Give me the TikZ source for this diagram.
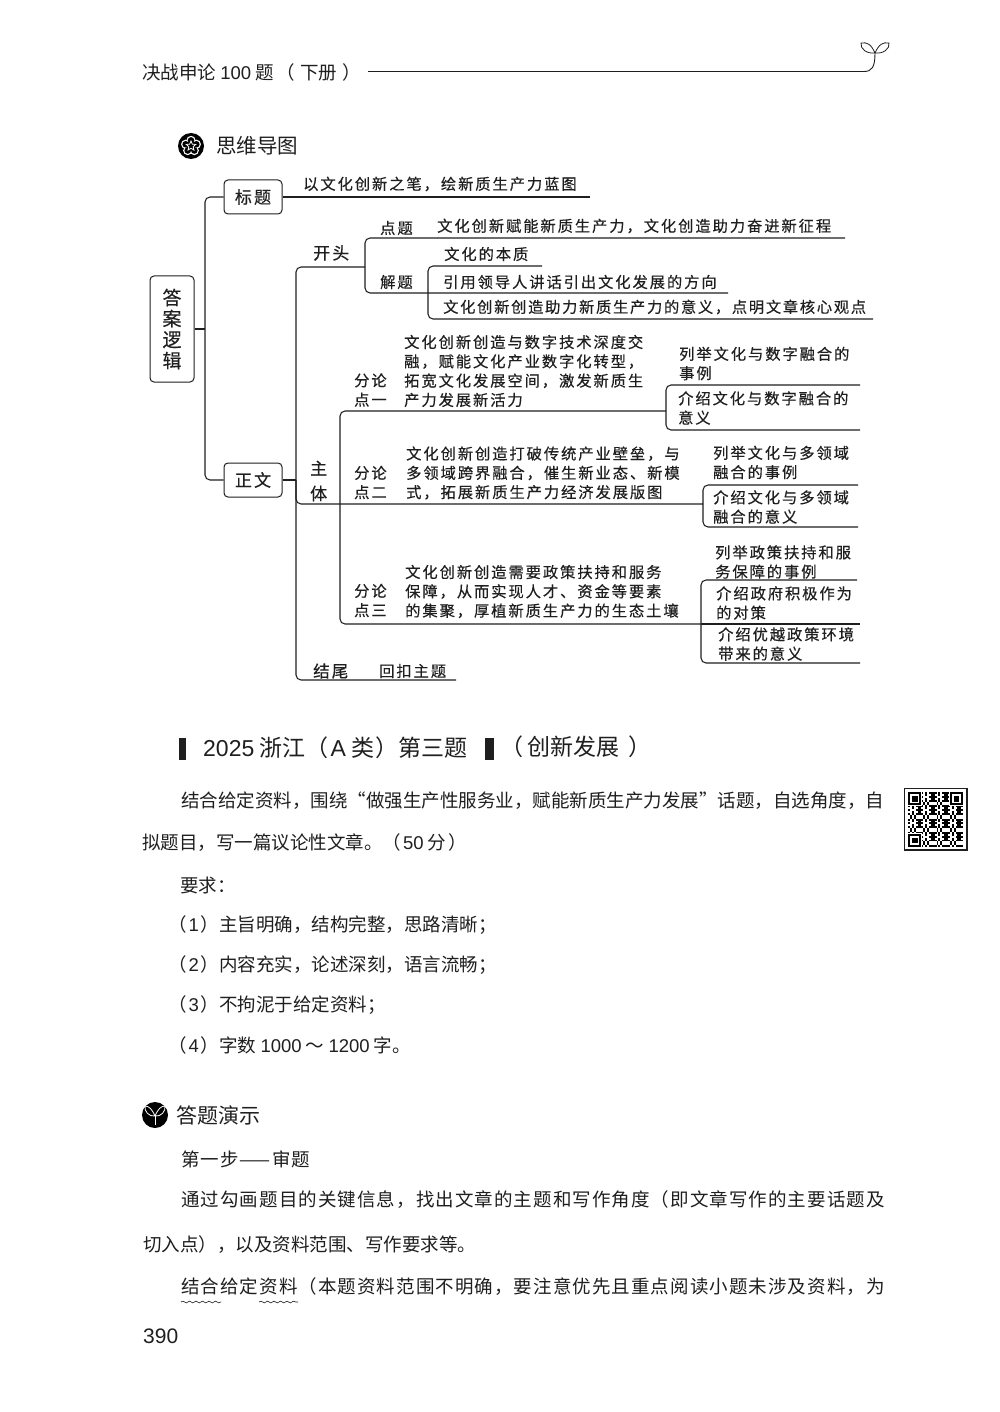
\documentclass[tikz,border=0pt]{standalone}
\usepackage{fontspec}
\setmainfont{Noto Sans CJK SC}
\newfontfamily\arialfont{Liberation Sans}
\newfontfamily\handfont[LetterSpace=12.5,FakeBold=0.35]{Noto Sans CJK SC}
\newfontfamily\handtight[LetterSpace=11,FakeBold=0.35]{Noto Sans CJK SC}
\newfontfamily\widebfont[LetterSpace=5.8]{Noto Sans CJK SC}
\usetikzlibrary{positioning, shapes.geometric, decorations.pathmorphing}
\newcommand{\mapfont}{\fontsize{15.3}{19.3}\selectfont\handfont}
\newcommand{\num}[1]{{\arialfont #1}}
\newcommand{\pnum}[1]{（\hspace{2pt}#1\hspace{2pt}）}
\definecolor{ink}{gray}{0.12}

\begin{document}
\begin{tikzpicture}[
  x=1pt, y=-1pt,
  text=ink,
  maptext/.style={inner sep=0pt, anchor=west, align=left, font=\mapfont},
  mapbox/.style={rectangle, rounded corners=4pt, draw=ink, line width=1pt,
                 minimum width=58pt, minimum height=34pt, inner sep=0pt,
                 font=\fontsize{17}{18}\selectfont\handfont},
  branch/.style={draw=ink, line width=1.05pt, rounded corners=5pt},
  body/.style={inner sep=0pt, anchor=west, font=\fontsize{18.5}{20}\selectfont},
  bodywide/.style={body, font=\fontsize{18.5}{20}\selectfont\widebfont},
  heading/.style={inner sep=0pt, anchor=west, font=\fontsize{20.5}{23}\selectfont},
  banner/.style={inner sep=0pt, anchor=west, font=\fontsize{23}{26}\selectfont},
  wavy/.style={draw=ink, line width=0.6pt, decorate,
               decoration={snake, segment length=6.5pt, amplitude=0.9pt}},
]
\useasboundingbox (0,0) rectangle (1000,1412);
\fill[white] (0,0) rectangle (1000,1412);

% Page head
\node[inner sep=0pt, anchor=west, font=\fontsize{18.5}{20}\selectfont] (head) at (142,72)
  {决战申论 \num{100} 题\hspace{3pt}（\hspace{5pt}下册\hspace{5pt}）};
\coordinate (headstart) at (368,71.5);
\coordinate (sprout) at (875,53);
\draw[draw=ink, line width=0.9pt] (headstart) -- (864,71.5)
  .. controls (872,71.5) and (875,67) .. (sprout);
\draw[draw=ink, line width=0.8pt] (sprout) .. controls (871,44) and (867,42) .. (861,43)
  .. controls (860,49) and (867,54) .. (sprout)
  .. controls (883,54) and (890,49) .. (889,43)
  .. controls (883,42) and (879,44) .. (sprout);

% Flower icon
\fill[black] (191,146) circle (13);
\foreach \a in {90,162,234,306,378}{
  \fill[white] (191,146) ++(\a:-5.6) circle (4.6);
}
\foreach \a in {90,162,234,306,378}{
  \fill[black] (191,146) ++(\a:-5.6) circle (3.3);
}
\fill[black] (191,146) circle (5);
\node[star, star points=5, star point ratio=2.2, fill=black, draw=white, line width=0.8pt,
      minimum size=10pt, inner sep=0pt] (flowerstar) at (191,146) {};
\node[heading] (maphead) at (216,146) {思维导图};

% Mind map boxes
\node[mapbox, minimum width=44pt, minimum height=106pt, align=center,
      font=\fontsize{19}{21}\selectfont\handfont] (root) at (172,329) {答\\案\\逻\\辑};
\node[mapbox] (titlebox) at (253,197) {标题};
\node[mapbox] (bodybox) at (253,480) {正文};
\coordinate (trunk) at (205,329);
\coordinate (titleend) at (590,197);
\coordinate (mainbranch) at (296,480);
\coordinate (openjoint) at (365,267);
\coordinate (endend) at (456,680);
\coordinate (pointtrunk) at (340,504);
\coordinate (pointa) at (666,411);
\coordinate (pointb) at (703,504);
\coordinate (pointc) at (701,624);
\coordinate (solvejoint) at (428,293);

% Mind map text
\node[maptext] (titletext) at (303,184) {以文化创新之笔，绘新质生产力蓝图};
\node[maptext, font=\fontsize{17}{19}\selectfont\handfont] (opening) at (313,253) {开头};
\node[maptext] (tiptitle) at (380,228) {点题};
\node[maptext] (tiptext) at (437,226) {文化创新赋能新质生产力，文化创造助力奋进新征程};
\node[maptext] (solve) at (380,282) {解题};
\node[maptext] (solvea) at (444,254) {文化的本质};
\node[maptext] (solveb) at (443,282) {引用领导人讲话引出文化发展的方向};
\node[maptext, font=\fontsize{15.3}{19}\selectfont\handtight] (solvec) at (443,307) {文化创新创造助力新质生产力的意义，点明文章核心观点};
\node[maptext, font=\fontsize{17}{25}\selectfont\handfont] (mainpart) at (310,481) {主\\体};
\node[maptext] (pointone) at (354,390) {分论\\点一};
\node[maptext] (paraone) at (404,371) {文化创新创造与数字技术深度交\\融，赋能文化产业数字化转型，\\拓宽文化发展空间，激发新质生\\产力发展新活力};
\node[maptext] (rone) at (679,363.5) {列举文化与数字融合的\\事例};
\node[maptext] (ronea) at (678,408) {介绍文化与数字融合的\\意义};
\node[maptext] (pointtwo) at (354,482.5) {分论\\点二};
\node[maptext] (paratwo) at (406,473) {文化创新创造打破传统产业壁垒，与\\多领域跨界融合，催生新业态、新模\\式，拓展新质生产力经济发展版图};
\node[maptext] (rtwo) at (713,462.5) {列举文化与多领域\\融合的事例};
\node[maptext] (rtwoa) at (713,507) {介绍文化与多领域\\融合的意义};
\node[maptext] (pointthree) at (354,600.5) {分论\\点三};
\node[maptext] (parathree) at (405,591.5) {文化创新创造需要政策扶持和服务\\保障，从而实现人才、资金等要素\\的集聚，厚植新质生产力的生态土壤};
\node[maptext] (rthree) at (715,562) {列举政策扶持和服\\务保障的事例};
\node[maptext] (rthreea) at (716,603) {介绍政府积极作为\\的对策};
\node[maptext] (rthreeb) at (718,644) {介绍优越政策环境\\带来的意义};
\node[maptext, font=\fontsize{16.5}{19}\selectfont\handfont] (ending) at (313,671) {结尾};
\node[maptext] (endtext) at (379,671) {回扣主题};

% Mind map lines
\draw[branch] (root.east |- trunk) -- (trunk);
\draw[branch] (titlebox.west) -| (trunk) |- (bodybox.west);
\draw[branch] (titlebox.east) -- (titleend);
\draw[branch] (bodybox.east) -- (mainbranch);
\draw[branch] (openjoint) -| (mainbranch) |- (endend);
\draw[branch] (mainbranch) |- (pointb);
\draw[branch] (pointa) -| (pointtrunk) |- (pointc);
\coordinate (tipend) at (845,238);
\coordinate (solveend) at (728,293);
\draw[branch] (tipend) -| (openjoint) |- (solveend);
\coordinate (solveaend) at (542,266);
\coordinate (solvecend) at (873,319);
\draw[branch] (solveaend) -| (solvejoint) |- (solvecend);
\coordinate (ronetop) at (860,385);
\coordinate (roneend) at (860,430);
\draw[branch] (ronetop) -| (pointa) |- (roneend);
\coordinate (rtwotop) at (858,485);
\coordinate (rtwoend) at (858,527);
\draw[branch] (rtwotop) -| (pointb) |- (rtwoend);
\coordinate (rthreetop) at (857,580);
\coordinate (rthreemid) at (860,624);
\coordinate (rthreeend) at (860,663);
\draw[branch] (rthreetop) -| (pointc) |- (rthreeend);
\draw[branch] (pointc) -- (rthreemid);

% Question
\fill[ink] (179,738) rectangle (186,760);
\node[banner] (bannertext) at (203,748) {\num{2025} 浙江\pnum{\num{A} 类}第三题};
\fill[ink] (485,738) rectangle (494,760);
\node[banner] (bannertopic) at (500,747) {（\hspace{4pt}创新发展\hspace{9pt}）};
\node[body] (quest) at (181,801) {结合给定资料，围绕“做强生产性服务业，赋能新质生产力发展”话题，自选角度，自};
\node[body] (questb) at (142,843) {拟题目，写一篇议论性文章。\pnum{\num{50} 分}};
\node[body] (require) at (180,885) {要求：};
\node[body] (reqa) at (168,925) {\pnum{\num{1}}主旨明确，结构完整，思路清晰；};
\node[body, below=40pt of reqa.west, anchor=west] (reqb) {\pnum{\num{2}}内容充实，论述深刻，语言流畅；};
\node[body, below=40.5pt of reqb.west, anchor=west] (reqc) {\pnum{\num{3}}不拘泥于给定资料；};
\node[body, below=40pt of reqc.west, anchor=west] (reqd) {\pnum{\num{4}}字数 \num{1000} ～ \num{1200} 字。};

% QR code
\draw[draw=ink, line width=1.2pt, fill=white] (904.5,788.5) rectangle (967,850);
\foreach \i in {0,...,28}{
  \foreach \j in {0,...,28}{
    \pgfmathparse{int(mod(\i*\i*3+\j*\j*5+\i*\j*7+\i*2+\j,7))}
    \ifnum\pgfmathresult<3
      \fill[black] (908+1.9*\i,792+1.9*\j) rectangle ++(1.95,1.95);
    \fi
  }
}
\foreach \qx/\qy in {908/792, 949.8/792, 908/833.8}{
  \fill[white] (\qx-1,\qy-1) rectangle ++(15.3,15.3);
  \draw[black, line width=1.9pt] (\qx+1,\qy+1) rectangle ++(11.3,11.3);
  \fill[black] (\qx+3.8,\qy+3.8) rectangle ++(5.7,5.7);
}

% Answer section
\fill[black] (155,1115) circle (13);
\coordinate (sproutbase) at (155,1116);
\draw[white, line width=0.8pt] (sproutbase) -- (155,1125);
\draw[white, line width=0.8pt] (sproutbase) .. controls (152,1109) and (149,1106) .. (145,1106)
  .. controls (144,1111) and (149,1117) .. (sproutbase)
  .. controls (161,1117) and (166,1111) .. (165,1106)
  .. controls (161,1106) and (158,1109) .. (sproutbase);
\node[heading, font=\fontsize{21}{23}\selectfont] (answerhead) at (176,1115) {答题演示};
\node[bodywide] (stepone) at (181,1159) {第一步——审题};
\node[bodywide] (stepa) at (181,1200) {通过勾画题目的关键信息，找出文章的主题和写作角度（即文章写作的主要话题及};
\node[body] (stepb) at (143,1245) {切入点），以及资料范围、写作要求等。};
\node[bodywide] (stepc) at (181,1287) {结合给定资料（本题资料范围不明确，要注意优先且重点阅读小题未涉及资料，为};
\coordinate (wavea) at (181,1302);
\coordinate (waveb) at (221,1302);
\coordinate (wavec) at (259,1302);
\coordinate (waved) at (298,1302);
\draw[wavy] (wavea) -- (waveb);
\draw[wavy] (wavec) -- (waved);
\node[inner sep=0pt, anchor=west, font=\fontsize{21}{24}\selectfont\arialfont] (pageno) at (143,1336) {390};
\end{tikzpicture}
\end{document}
